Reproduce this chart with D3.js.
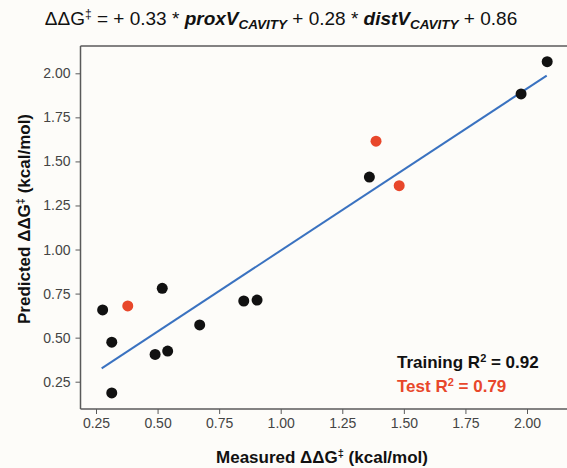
<!DOCTYPE html>
<html>
<head>
<meta charset="utf-8">
<script src="https://cdn.jsdelivr.net/npm/d3@7"></script>
<style>
  html, body { margin: 0; padding: 0; background: #fdfcf9; }
  svg { display: block; font-family: "Liberation Sans", Arial, Helvetica, sans-serif; }
</style>
</head>
<body>
<svg id="chart" width="567" height="468"></svg>
<script>
// measured vs predicted values
const trainX = [0.277, 0.314, 0.314, 0.519, 0.490, 0.541, 0.671, 0.850, 0.904, 1.360, 1.976, 2.082];
const trainY = [0.657, 0.474, 0.186, 0.780, 0.405, 0.424, 0.572, 0.708, 0.713, 1.411, 1.883, 2.066];
const testX = [0.379, 1.387, 1.481];
const testY = [0.680, 1.615, 1.362];
// regression line end points
const fitX = [0.273, 2.080];
const fitY = [0.326, 1.987];
const tickValues = [0.25, 0.50, 0.75, 1.00, 1.25, 1.50, 1.75, 2.00];

const svg = d3.select("#chart");

// plot frame
const frame = { left: 80.5, top: 46, bottom: 409, right: 570 };

const x = d3.scaleLinear().domain([0.25, 2.0]).range([96, 527]);
const y = d3.scaleLinear().domain([0.25, 2.0]).range([381.7, 73.3]);

const axisColor = "#5a5a5a";
const tickText = "#444";

// spines
svg.append("line")
    .attr("x1", frame.left).attr("x2", frame.right)
    .attr("y1", frame.top).attr("y2", frame.top)
    .attr("stroke", axisColor).attr("stroke-width", 1.5);
svg.append("line")
    .attr("x1", frame.left).attr("x2", frame.left)
    .attr("y1", frame.top).attr("y2", frame.bottom)
    .attr("stroke", axisColor).attr("stroke-width", 1.5);
svg.append("line")
    .attr("x1", frame.left).attr("x2", frame.right)
    .attr("y1", frame.bottom).attr("y2", frame.bottom)
    .attr("stroke", axisColor).attr("stroke-width", 1.5);

// x axis
const xAxis = svg.append("g")
    .attr("transform", `translate(0,${frame.bottom})`)
    .call(d3.axisBottom(x).tickValues(tickValues).tickSize(5).tickPadding(4)
        .tickFormat(d3.format(".2f")));
xAxis.select(".domain").remove();
xAxis.selectAll(".tick line").attr("stroke", axisColor);
xAxis.selectAll(".tick text")
    .attr("fill", tickText).style("font-size", "14px")
    .style("font-family", "'Liberation Sans', Arial, sans-serif");

// y axis
const yAxis = svg.append("g")
    .attr("transform", `translate(${frame.left},0)`)
    .call(d3.axisLeft(y).tickValues(tickValues).tickSize(5).tickPadding(5)
        .tickFormat(d3.format(".2f")));
yAxis.select(".domain").remove();
yAxis.selectAll(".tick line").attr("stroke", axisColor);
yAxis.selectAll(".tick text")
    .attr("fill", tickText).style("font-size", "14px")
    .style("font-family", "'Liberation Sans', Arial, sans-serif");

// fit line
svg.append("path")
    .datum(d3.zip(fitX, fitY))
    .attr("fill", "none")
    .attr("stroke", "#3a72c0")
    .attr("stroke-width", 2)
    .attr("d", d3.line().x(d => x(d[0])).y(d => y(d[1])));

// points
svg.append("g").selectAll("circle")
    .data(d3.zip(trainX, trainY))
    .enter().append("circle")
    .attr("cx", d => x(d[0]))
    .attr("cy", d => y(d[1]))
    .attr("r", 5.5)
    .attr("fill", "#111");

svg.append("g").selectAll("circle")
    .data(d3.zip(testX, testY))
    .enter().append("circle")
    .attr("cx", d => x(d[0]))
    .attr("cy", d => y(d[1]))
    .attr("r", 5.5)
    .attr("fill", "#e8472b");

// title
const title = svg.append("text")
    .attr("x", 281).attr("y", 25)
    .attr("text-anchor", "middle")
    .style("font-size", "19px")
    .attr("fill", "#111");
title.append("tspan").text("ΔΔG");
title.append("tspan").attr("dy", -7).style("font-size", "12px").text("‡");
title.append("tspan").attr("dy", 7).text(" = + 0.33 * ");
title.append("tspan").style("font-weight", "bold").style("font-style", "italic").text("proxV");
title.append("tspan").attr("dy", 4).style("font-weight", "bold").style("font-style", "italic")
    .style("font-size", "13.5px").text("CAVITY");
title.append("tspan").attr("dy", -4).text(" + 0.28 * ");
title.append("tspan").style("font-weight", "bold").style("font-style", "italic").text("distV");
title.append("tspan").attr("dy", 4).style("font-weight", "bold").style("font-style", "italic")
    .style("font-size", "13.5px").text("CAVITY");
title.append("tspan").attr("dy", -4).text(" + 0.86");

// axis labels
const xLabel = svg.append("text")
    .attr("x", 322).attr("y", 463)
    .attr("text-anchor", "middle")
    .style("font-size", "17px").style("font-weight", "bold")
    .attr("fill", "#111");
xLabel.append("tspan").text("Measured ΔΔG");
xLabel.append("tspan").attr("dy", -6).style("font-size", "11px").text("‡");
xLabel.append("tspan").attr("dy", 6).text(" (kcal/mol)");

const yLabel = svg.append("text")
    .attr("transform", "translate(30,219) rotate(-90)")
    .attr("text-anchor", "middle")
    .style("font-size", "17px").style("font-weight", "bold")
    .attr("fill", "#111");
yLabel.append("tspan").text("Predicted ΔΔG");
yLabel.append("tspan").attr("dy", -6).style("font-size", "11px").text("‡");
yLabel.append("tspan").attr("dy", 6).text(" (kcal/mol)");

// R² annotations
const trainLabel = svg.append("text")
    .attr("x", 397).attr("y", 368)
    .style("font-size", "17px").style("font-weight", "bold")
    .attr("fill", "#111");
trainLabel.append("tspan").text("Training R");
trainLabel.append("tspan").attr("dy", -6).style("font-size", "11px").text("2");
trainLabel.append("tspan").attr("dy", 6).text(" = 0.92");

const testLabel = svg.append("text")
    .attr("x", 397).attr("y", 392)
    .style("font-size", "17px").style("font-weight", "bold")
    .attr("fill", "#e8472b");
testLabel.append("tspan").text("Test R");
testLabel.append("tspan").attr("dy", -6).style("font-size", "11px").text("2");
testLabel.append("tspan").attr("dy", 6).text(" = 0.79");
</script>
</body>
</html>
